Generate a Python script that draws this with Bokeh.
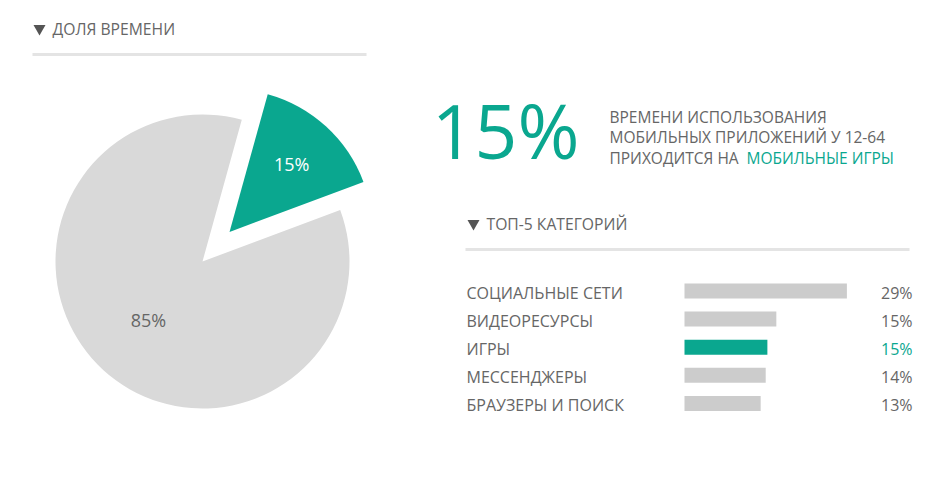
import math
from bokeh.plotting import figure
from bokeh.models import Range1d, ColumnDataSource
from bokeh.core.properties import value
from bokeh.embed import file_html
from bokeh.resources import INLINE

# ---- data ----
pie_labels = ["Мобильные игры", "Другое"]
pie_shares = [15, 85]
pie_texts = ["15%", "85%"]

categories = ["СОЦИАЛЬНЫЕ СЕТИ", "ВИДЕОРЕСУРСЫ", "ИГРЫ", "МЕССЕНДЖЕРЫ", "БРАУЗЕРЫ И ПОИСК"]
bar_values = [29, 16.4, 14.8, 14.5, 13.6]
bar_texts = ["29%", "15%", "15%", "14%", "13%"]
highlight = "ИГРЫ"

headline_value = "15%"
headline_lines = ["ВРЕМЕНИ ИСПОЛЬЗОВАНИЯ", "МОБИЛЬНЫХ ПРИЛОЖЕНИЙ У 12-64", "ПРИХОДИТСЯ НА "]
headline_accent = "МОБИЛЬНЫЕ ИГРЫ"
title_texts = ["ДОЛЯ ВРЕМЕНИ", "ТОП-5 КАТЕГОРИЙ"]

# ---- style ----
W, H = 938, 478
TEAL = "#0aa78f"
GRAY_TXT = "#666666"
PIE_GRAY = "#d9d9d9"
BAR_GRAY = "#cccccc"
LINE_GRAY = "#e4e4e4"
FONT = value("Open Sans")


def Y(ypix):
    return H - ypix


p = figure(width=W, height=H, x_range=Range1d(0, W), y_range=Range1d(0, H),
           output_backend="svg", toolbar_location=None, min_border=0,
           x_axis_type=None, y_axis_type=None)
p.grid.visible = False
p.outline_line_color = None
p.background_fill_color = "white"
p.border_fill_color = "white"

# ---- pie ----
cx, cy, R = 202, Y(261), 147
explode = 40
start = math.radians(20.5)
total = sum(pie_shares)
ang = start
for i, (share, txt) in enumerate(zip(pie_shares, pie_texts)):
    span = 2 * math.pi * share / total
    a0, a1 = ang, ang + span
    mid = (a0 + a1) / 2
    off = explode if i == 0 else 0
    ox = cx + off * math.cos(mid)
    oy = cy + off * math.sin(mid)
    col = TEAL if i == 0 else PIE_GRAY
    p.wedge(x=[ox], y=[oy], radius=R - (4 if i == 0 else 0), start_angle=[a0], end_angle=[a1],
            fill_color=col, line_color=None)
    lr = 92 if i == 0 else 80
    p.text(x=[ox + lr * math.cos(mid)], y=[oy + lr * math.sin(mid)], text=[txt],
           text_font=FONT, text_font_size="18px",
           text_color="white" if i == 0 else GRAY_TXT,
           text_align="center", text_baseline="middle")
    ang = a1

# ---- titles and rules ----
p.scatter(x=[39, 473], y=[Y(28), Y(223)], marker="inverted_triangle", size=12,
          fill_color="#555555", line_color=None)
p.text(x=[52, 486], y=[Y(28), Y(223)], text=title_texts,
       text_font=FONT, text_font_size="15.7px", text_color=GRAY_TXT,
       text_baseline="middle")
p.segment(x0=[32, 465], y0=[Y(54), Y(249)], x1=[366, 909], y1=[Y(54), Y(249)],
          line_color=LINE_GRAY, line_width=3)

# ---- headline ----
p.text(x=[579], y=[Y(129)], text=[headline_value], text_font=FONT,
       text_font_size="75px", text_color=TEAL, text_baseline="middle",
       text_align="right")
p.text(x=[609, 609, 609], y=[Y(116), Y(136), Y(157)], text=headline_lines,
       text_font=FONT, text_font_size="15.5px", text_color=GRAY_TXT,
       text_baseline="middle")
p.text(x=[746], y=[Y(157)], text=[headline_accent], text_font=FONT,
       text_font_size="15.5px", text_color=TEAL, text_baseline="middle")

# ---- bars ----
px_per_unit = 5.6
bar_x0 = 684
p.extra_x_ranges = {"bars": Range1d(-bar_x0 / px_per_unit, (W - bar_x0) / px_per_unit)}
row_y = [Y(290.5 + i * 28.1) for i in range(len(categories))]
bar_colors = [TEAL if c == highlight else BAR_GRAY for c in categories]
label_colors = [TEAL if c == highlight else GRAY_TXT for c in categories]
src = ColumnDataSource(dict(y=row_y, ty=[y - 1.5 for y in row_y], v=bar_values,
                            c=bar_colors, lc=label_colors, cat=categories, t=bar_texts))
p.hbar(y="y", left=0, right="v", height=15, fill_color="c", line_color=None,
       source=src, x_range_name="bars")
p.text(x=466, y="ty", text="cat", source=src, text_font=FONT, text_font_size="16px",
       text_color=GRAY_TXT, text_baseline="middle")
p.text(x=912, y="ty", text="t", source=src, text_font=FONT, text_font_size="16px",
       text_color="lc", text_align="right", text_baseline="middle")

open("out.html", "w").write(file_html(p, INLINE))
